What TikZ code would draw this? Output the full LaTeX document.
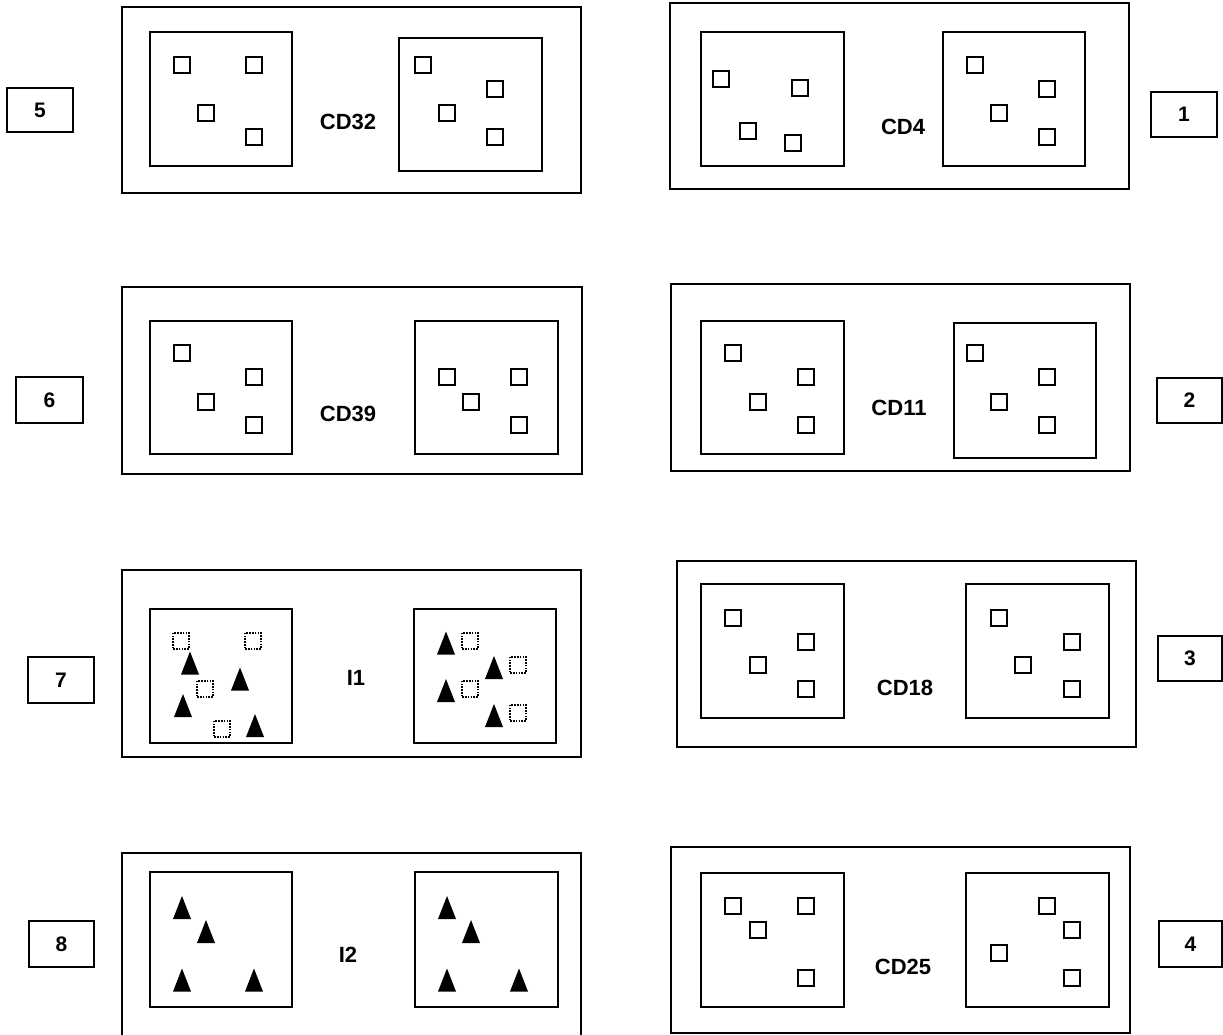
\documentclass[tikz,border=0pt]{standalone}
\usepackage{fontspec}
\setmainfont{Liberation Sans}
\usetikzlibrary{fit}
\tikzset{
  outerbox/.style={draw, line width=2pt, inner sep=0pt},
  innerbox/.style={draw, line width=1.8pt, inner sep=0pt},
  numbox/.style={draw, line width=2pt, inner sep=0pt, font=\fontsize{21}{25}\selectfont\bfseries},
  lbl/.style={inner sep=0pt, font=\fontsize{22}{26}\selectfont\bfseries},
  sq/.style={draw, line width=1.6pt, minimum size=15.5pt, inner sep=0pt},
  dsq/.style={draw, line width=1.6pt, dash pattern=on 1.5pt off 1.3pt, minimum width=15.5pt, minimum height=16.5pt, inner sep=0pt},
  spike/.pic={\fill (-9,11.5) -- (0,-11.5) -- (9,11.5) -- cycle;}
}
\begin{document}
\begin{tikzpicture}[x=1pt,y=-1pt]
\useasboundingbox (0,0) rectangle (1223,1035);
\clip (0,0) rectangle (1223,1035);

% ---------- Row 1 left: CD32 ----------
\node[outerbox, fit={(122,7) (581,193)}] (o1) {};
\node[innerbox, fit={(150,32) (292,166)}] (o1l) {};
\node[innerbox, fit={(399,38) (542,171)}] (o1r) {};
\node[lbl] (t1) at (348,122) {CD32};
\node[sq] (a1) at (182,65) {};
\node[sq] (a2) at (254,65) {};
\node[sq] (a3) at (206,113) {};
\node[sq] (a4) at (254,137) {};
\node[sq] (a5) at (423,65) {};
\node[sq] (a6) at (495,89) {};
\node[sq] (a7) at (447,113) {};
\node[sq] (a8) at (495,137) {};
\node[numbox, fit={(7,88) (73,132)}] (n5) {};
\node[numbox, draw=none] (n5t) at (n5.center) {5};

% ---------- Row 1 right: CD4 ----------
\node[outerbox, fit={(670,3) (1129,189)}] (o2) {};
\node[innerbox, fit={(701,32) (844,166)}] (o2l) {};
\node[innerbox, fit={(943,32) (1085,166)}] (o2r) {};
\node[lbl] (t2) at (903,127) {CD4};
\node[sq] (b1) at (721,79) {};
\node[sq] (b2) at (800,88) {};
\node[sq] (b3) at (748,131) {};
\node[sq] (b4) at (793,143) {};
\node[sq] (b5) at (975,65) {};
\node[sq] (b6) at (1047,89) {};
\node[sq] (b7) at (999,113) {};
\node[sq] (b8) at (1047,137) {};
\node[numbox, fit={(1151,92) (1217,137)}] (n1) {};
\node[numbox, draw=none] (n1t) at (n1.center) {1};

% ---------- Row 2 left: CD39 ----------
\node[outerbox, fit={(122,287) (582,474)}] (o3) {};
\node[innerbox, fit={(150,321) (292,454)}] (o3l) {};
\node[innerbox, fit={(415,321) (558,454)}] (o3r) {};
\node[lbl] (t3) at (348,414) {CD39};
\node[sq] (c1) at (182,353) {};
\node[sq] (c2) at (254,377) {};
\node[sq] (c3) at (206,402) {};
\node[sq] (c4) at (254,425) {};
\node[sq] (c5) at (447,377) {};
\node[sq] (c6) at (519,377) {};
\node[sq] (c7) at (471,402) {};
\node[sq] (c8) at (519,425) {};
\node[numbox, fit={(16,377) (83,423)}] (n6) {};
\node[numbox, draw=none] (n6t) at (n6.center) {6};

% ---------- Row 2 right: CD11 ----------
\node[outerbox, fit={(671,284) (1130,471)}] (o4) {};
\node[innerbox, fit={(701,321) (844,454)}] (o4l) {};
\node[innerbox, fit={(954,323) (1096,458)}] (o4r) {};
\node[lbl] (t4) at (899,408) {CD11};
\node[sq] (d1) at (733,353) {};
\node[sq] (d2) at (806,377) {};
\node[sq] (d3) at (758,402) {};
\node[sq] (d4) at (806,425) {};
\node[sq] (d5) at (975,353) {};
\node[sq] (d6) at (1047,377) {};
\node[sq] (d7) at (999,402) {};
\node[sq] (d8) at (1047,425) {};
\node[numbox, fit={(1157,378) (1222,423)}] (n2) {};
\node[numbox, draw=none] (n2t) at (n2.center) {2};

% ---------- Row 3 left: I1 ----------
\node[outerbox, fit={(122,570) (581,757)}] (o5) {};
\node[innerbox, fit={(150,609) (292,743)}] (o5l) {};
\node[innerbox, fit={(414,609) (556,743)}] (o5r) {};
\node[lbl] (t5) at (356,678) {I1};
\node[dsq] (e1) at (181,641) {};
\node[dsq] (e2) at (253,641) {};
\node[dsq] (e3) at (205,689) {};
\node[dsq] (e4) at (222,729) {};
\pic (f1) at (190,663) {spike};
\pic (f2) at (240,679) {spike};
\pic (f3) at (183,705.5) {spike};
\pic (f4) at (255,725.5) {spike};
\node[dsq] (e5) at (470,641) {};
\node[dsq] (e6) at (518,665) {};
\node[dsq] (e7) at (470,689) {};
\node[dsq] (e8) at (518,713) {};
\pic (f5) at (446,643) {spike};
\pic (f6) at (494,667.5) {spike};
\pic (f7) at (446,690.5) {spike};
\pic (f8) at (494,715.5) {spike};
\node[numbox, fit={(28,657) (94,703)}] (n7) {};
\node[numbox, draw=none] (n7t) at (n7.center) {7};

% ---------- Row 3 right: CD18 ----------
\node[outerbox, fit={(677,561) (1136,747)}] (o6) {};
\node[innerbox, fit={(701,584) (844,718)}] (o6l) {};
\node[innerbox, fit={(966,584) (1109,718)}] (o6r) {};
\node[lbl] (t6) at (905,688) {CD18};
\node[sq] (g1) at (733,618) {};
\node[sq] (g2) at (806,642) {};
\node[sq] (g3) at (758,665) {};
\node[sq] (g4) at (806,689) {};
\node[sq] (g5) at (999,618) {};
\node[sq] (g6) at (1072,642) {};
\node[sq] (g7) at (1023,665) {};
\node[sq] (g8) at (1072,689) {};
\node[numbox, fit={(1158,636) (1222,681)}] (n3) {};
\node[numbox, draw=none] (n3t) at (n3.center) {3};

% ---------- Row 4 left: I2 ----------
\node[outerbox, fit={(122,853) (581,1045)}] (o7) {};
\node[innerbox, fit={(150,872) (292,1007)}] (o7l) {};
\node[innerbox, fit={(415,872) (558,1007)}] (o7r) {};
\node[lbl] (t7) at (348,955) {I2};
\pic (h1) at (182,907.5) {spike};
\pic (h2) at (206,931.5) {spike};
\pic (h3) at (182,980) {spike};
\pic (h4) at (254,980) {spike};
\pic (h5) at (447,907.5) {spike};
\pic (h6) at (471,931.5) {spike};
\pic (h7) at (447,980) {spike};
\pic (h8) at (519,980) {spike};
\node[numbox, fit={(29,921) (94,967)}] (n8) {};
\node[numbox, draw=none] (n8t) at (n8.center) {8};

% ---------- Row 4 right: CD25 ----------
\node[outerbox, fit={(671,847) (1130,1033)}] (o8) {};
\node[innerbox, fit={(701,873) (844,1007)}] (o8l) {};
\node[innerbox, fit={(966,873) (1109,1007)}] (o8r) {};
\node[lbl] (t8) at (903,967) {CD25};
\node[sq] (k1) at (733,906) {};
\node[sq] (k2) at (806,906) {};
\node[sq] (k3) at (758,930) {};
\node[sq] (k4) at (806,978) {};
\node[sq] (k5) at (1047,906) {};
\node[sq] (k6) at (1072,930) {};
\node[sq] (k7) at (999,953) {};
\node[sq] (k8) at (1072,978) {};
\node[numbox, fit={(1159,921) (1222,967)}] (n4) {};
\node[numbox, draw=none] (n4t) at (n4.center) {4};
\end{tikzpicture}
\end{document}
